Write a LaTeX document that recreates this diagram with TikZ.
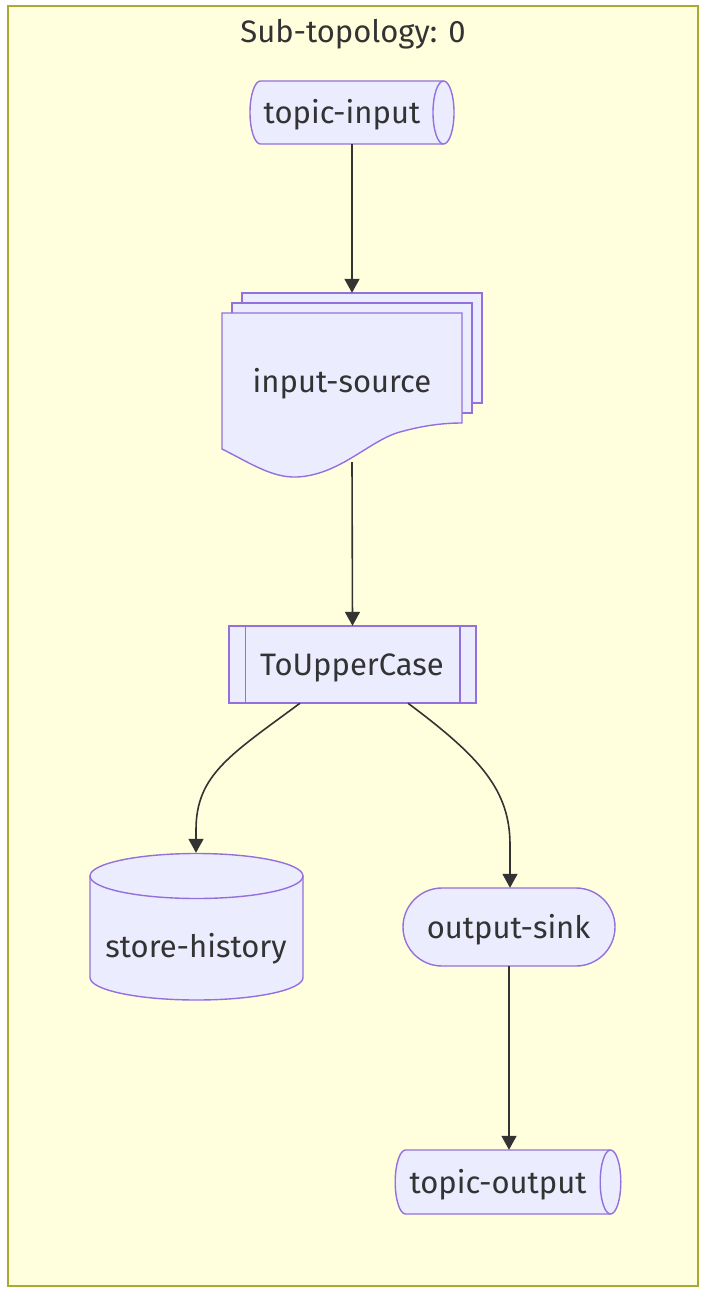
\documentclass[tikz,border=0pt]{standalone}
\usepackage{fontspec}
\setmainfont{Fira Sans}
\usetikzlibrary{arrows.meta}
\definecolor{nodefill}{HTML}{ECECFF}
\definecolor{nodeline}{HTML}{9370DB}
\definecolor{edgecol}{HTML}{333333}
\definecolor{clusterfill}{HTML}{FFFFDE}
\definecolor{clusterline}{HTML}{AAAA33}
\begin{document}
\begin{tikzpicture}[x=1pt,y=-1pt,
  shapestyle/.style={fill=nodefill,draw=nodeline,line width=1.4pt},
  lbl/.style={inner sep=0pt,text=edgecol,font=\fontsize{31}{36}\selectfont,yshift=-3pt},
  frame/.style={draw=none,inner sep=0pt},
  conn/.style={draw=edgecol,line width=1.6pt,-{Triangle[length=14pt,width=15pt]}}]
\useasboundingbox (0,0) rectangle (706,1292);
\fill[white] (0,0) rectangle (706,1292);
% cluster
\draw[fill=clusterfill,draw=clusterline,line width=1.5pt] (8,6) rectangle (698,1286);
\node[lbl] (title) at (353,31) {Sub-topology: 0};

% topic-input (horizontal cylinder)
\path[shapestyle] (260.5,81) -- (443.5,81)
  arc[start angle=-90,end angle=90,x radius=10.5,y radius=31.5]
  -- (260.5,144) arc[start angle=90,end angle=270,x radius=10.5,y radius=31.5] -- cycle;
\draw[draw=nodeline,line width=1.4pt] (443.5,81) arc[start angle=-90,end angle=-270,x radius=10.5,y radius=31.5];
\node[frame,minimum width=204pt,minimum height=63pt] (tin) at (352,112.5) {};
\node[lbl] (tinl) at (342,112) {topic-input};

% input-source (multi document)
\path[shapestyle] (242,293) rectangle (482,403);
\path[shapestyle] (232,303) rectangle (472,413);
\path[shapestyle] (222,313) -- (462,313) -- (462,423)
  .. controls (445,423) and (425,425) .. (400,432)
  .. controls (370,440) and (340,475) .. (297,477)
  .. controls (272,478) and (250,463) .. (222,449) -- cycle;
\node[frame,minimum width=260pt,minimum height=184pt] (isrc) at (352,385) {};
\node[lbl] (isrcl) at (342,381) {input-source};
\coordinate (isrcout) at (352,462);

% ToUpperCase (subroutine)
\path[shapestyle] (229,626) rectangle (476,703);
\draw[draw=nodeline,line width=1.4pt] (245.5,626) -- (245.5,703) (460,626) -- (460,703);
\node[frame,minimum width=247pt,minimum height=77pt] (upper) at (352.5,664.5) {};
\node[lbl] (upperl) at (352,665) {ToUpperCase};

% store-history (vertical cylinder)
\path[shapestyle] (90,876) arc[start angle=180,end angle=360,x radius=106.5,y radius=22.5]
  -- (303,977.5) arc[start angle=0,end angle=180,x radius=106.5,y radius=22.5] -- cycle;
\draw[draw=nodeline,line width=1.4pt] (90,876) arc[start angle=180,end angle=0,x radius=106.5,y radius=22.5];
\node[frame,minimum width=213pt,minimum height=147pt] (store) at (196.5,926.5) {};
\node[lbl] (storel) at (196,946) {store-history};

% output-sink (stadium)
\path[shapestyle,rounded corners=39pt] (403,888) rectangle (615,966);
\node[frame,minimum width=212pt,minimum height=78pt] (sink) at (509,927) {};
\node[lbl] (sinkl) at (508.5,927) {output-sink};

% topic-output (horizontal cylinder)
\path[shapestyle] (405.5,1150) -- (610.5,1150)
  arc[start angle=-90,end angle=90,x radius=10.3,y radius=32]
  -- (405.5,1214) arc[start angle=90,end angle=270,x radius=10.3,y radius=32] -- cycle;
\draw[draw=nodeline,line width=1.4pt] (610.5,1150) arc[start angle=-90,end angle=-270,x radius=10.3,y radius=32];
\node[frame,minimum width=226pt,minimum height=64pt] (tout) at (509,1182) {};
\node[lbl] (toutl) at (498,1182) {topic-output};

% connectors
\draw[conn] (tin.south) -- (isrc.north);
\draw[conn] (isrcout) -- (upper.north);
\draw[conn] (upper.south -| 300,0) .. controls (230,755) and (196,775) .. (196,830) -- (store.north -| 196,0);
\draw[conn] (upper.south -| 408,0) .. controls (480,757) and (510,790) .. (510,845) -- (sink.north -| 510,0);
\draw[conn] (sink.south) -- (tout.north);
\end{tikzpicture}
\end{document}
